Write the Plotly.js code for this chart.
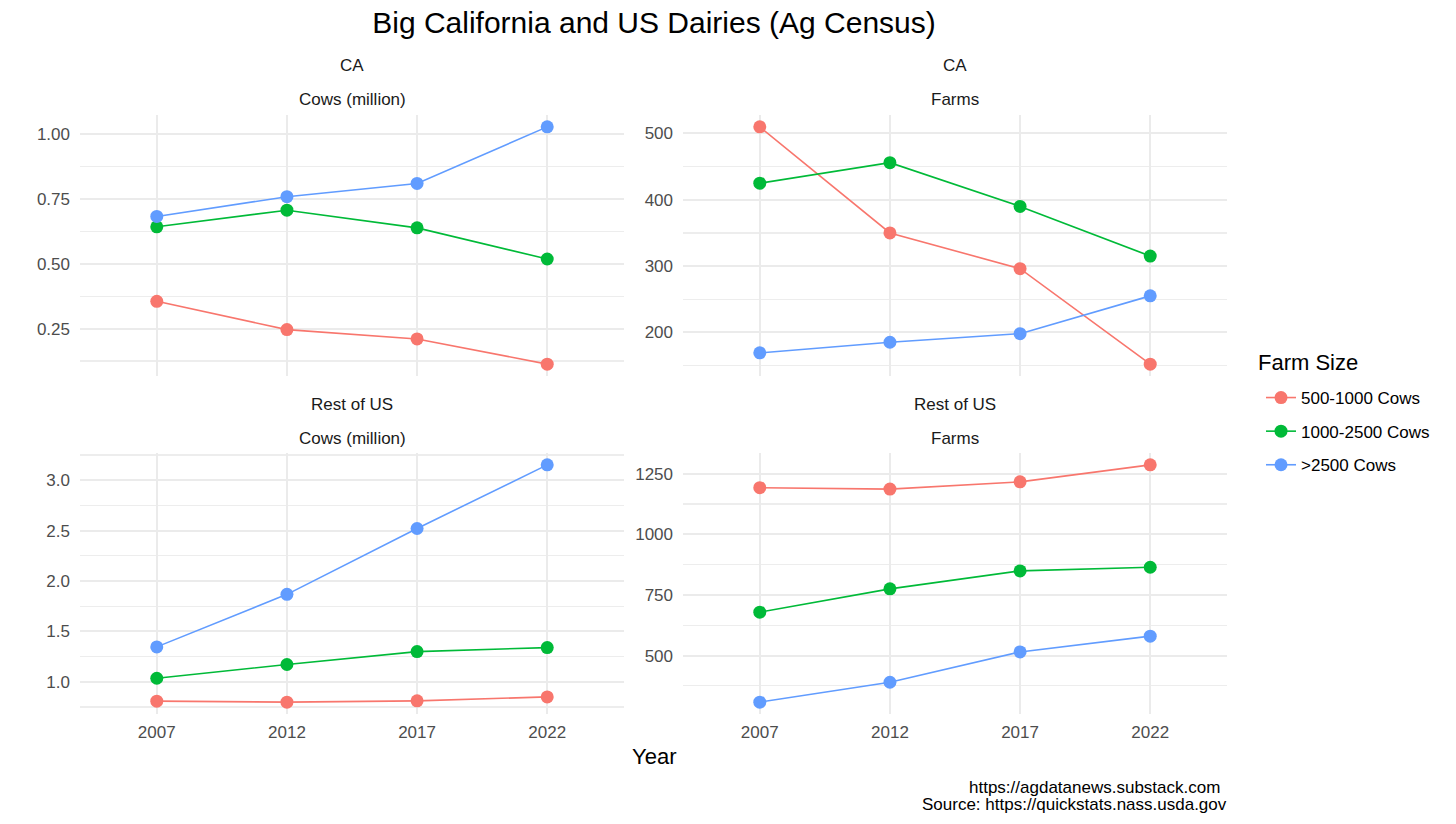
<!DOCTYPE html>
<html>
<head>
<meta charset="utf-8">
<script src="https://cdn.plot.ly/plotly-3.0.1.min.js"></script>
<style>
html, body { margin: 0; padding: 0; background: #ffffff; }
#chart { width: 1456px; height: 824px; }
</style>
</head>
<body>
<div id="chart"></div>
<script>
// ---- Data ----
const years = [2007, 2012, 2017, 2022];
const sizeLabels = ["500-1000 Cows", "1000-2500 Cows", ">2500 Cows"];

const caCows_500_1000  = [0.355, 0.246, 0.210, 0.113];
const caCows_1000_2500 = [0.642, 0.706, 0.638, 0.518];
const caCows_2500plus  = [0.682, 0.758, 0.809, 1.027];

const caFarms_500_1000  = [510, 350, 296, 152];
const caFarms_1000_2500 = [425, 456, 390, 315];
const caFarms_2500plus  = [169, 185, 198, 255];

const usCows_500_1000  = [0.809, 0.799, 0.812, 0.851];
const usCows_1000_2500 = [1.036, 1.172, 1.300, 1.340];
const usCows_2500plus  = [1.347, 1.868, 2.521, 3.152];

const usFarms_500_1000  = [1192, 1186, 1216, 1286];
const usFarms_1000_2500 = [679, 775, 849, 864];
const usFarms_2500plus  = [308, 390, 515, 580];

const stripTop = ["CA", "CA", "Rest of US", "Rest of US"];
const stripBottom = ["Cows (million)", "Farms", "Cows (million)", "Farms"];

// ---- Styling ----
const colors = ["#F8766D", "#00BA38", "#619CFF"];
const FONT = "Liberation Sans, Arial, sans-serif";

const panels = [
  { xa: "x",  ya: "y",  series: [caCows_500_1000, caCows_1000_2500, caCows_2500plus] },
  { xa: "x2", ya: "y2", series: [caFarms_500_1000, caFarms_1000_2500, caFarms_2500plus] },
  { xa: "x3", ya: "y3", series: [usCows_500_1000, usCows_1000_2500, usCows_2500plus] },
  { xa: "x4", ya: "y4", series: [usFarms_500_1000, usFarms_1000_2500, usFarms_2500plus] }
];

const traces = [];
panels.forEach((p, pi) => {
  p.series.forEach((vals, si) => {
    traces.push({
      type: "scatter",
      mode: "lines+markers",
      x: years,
      y: vals,
      xaxis: p.xa,
      yaxis: p.ya,
      name: sizeLabels[si],
      legendgroup: sizeLabels[si],
      showlegend: pi === 0,
      line: { color: colors[si], width: 1.6 },
      marker: { color: colors[si], size: 13 },
      hoverinfo: "x+y+name"
    });
  });
});

function expanded(arrs) {
  const all = [].concat(...arrs);
  const lo = Math.min(...all), hi = Math.max(...all);
  const pad = (hi - lo) * 0.05;
  return [lo - pad, hi + pad];
}

const W = 1456, H = 824;
const px = v => v / W;
const py = v => 1 - v / H;

const xDomL = [px(80), px(624)];
const xDomR = [px(683), px(1227)];
const yDomT = [py(376), py(115)];
const yDomB = [py(714), py(453)];

const xRange = [2004.05, 2024.95];

function xaxis(domain, anchor, labels) {
  return {
    domain: domain, anchor: anchor, range: xRange,
    tickvals: years, ticktext: years.map(String),
    showticklabels: labels,
    showgrid: true, gridcolor: "#EBEBEB", gridwidth: 2,
    zeroline: false, showline: false, ticks: "",
    ticklabelstandoff: 6,
    tickfont: { family: FONT, size: 17, color: "#4D4D4D" },
    fixedrange: true
  };
}
function yaxis(domain, anchor, range, dtick, fmt) {
  return {
    domain: domain, anchor: anchor, range: range,
    dtick: dtick, tick0: 0, tickformat: fmt,
    showgrid: true, gridcolor: "#EBEBEB", gridwidth: 2,
    minor: { dtick: dtick / 2, tick0: 0, showgrid: true, gridcolor: "#EDEDED", gridwidth: 1.2, ticks: "" },
    zeroline: false, showline: false, ticks: "",
    ticklabelstandoff: 9,
    tickfont: { family: FONT, size: 17, color: "#4D4D4D" },
    fixedrange: true
  };
}

const annotations = [];
const stripCenters = [
  [(80 + 624) / 2, 66, 100],
  [(683 + 1227) / 2, 66, 100],
  [(80 + 624) / 2, 405, 438],
  [(683 + 1227) / 2, 405, 438]
];
stripCenters.forEach((c, i) => {
  annotations.push({ xref: "paper", yref: "paper", x: px(c[0]), y: py(c[1]), text: stripTop[i],
    showarrow: false, xanchor: "center", yanchor: "middle", font: { family: FONT, size: 17, color: "#1A1A1A" } });
  annotations.push({ xref: "paper", yref: "paper", x: px(c[0]), y: py(c[2]), text: stripBottom[i],
    showarrow: false, xanchor: "center", yanchor: "middle", font: { family: FONT, size: 17, color: "#1A1A1A" } });
});
annotations.push({ xref: "paper", yref: "paper", x: px(654), y: py(756), text: "Year",
  showarrow: false, xanchor: "center", yanchor: "middle", font: { family: FONT, size: 22, color: "#000000" } });
annotations.push({ xref: "paper", yref: "paper", x: px(1222), y: py(787),
  text: "https://agdatanews.substack.com",
  showarrow: false, xanchor: "right", yanchor: "middle",
  font: { family: FONT, size: 17, color: "#000000" } });
annotations.push({ xref: "paper", yref: "paper", x: px(1229), y: py(804),
  text: "Source: https://quickstats.nass.usda.gov",
  showarrow: false, xanchor: "right", yanchor: "middle",
  font: { family: FONT, size: 17, color: "#000000" } });
annotations.push({ xref: "paper", yref: "paper", x: px(1256), y: py(362),
  text: "Farm Size",
  showarrow: false, xanchor: "left", yanchor: "middle",
  font: { family: FONT, size: 22, color: "#000000" } });

const layout = {
  width: W, height: H,
  margin: { l: 0, r: 0, t: 0, b: 0 },
  paper_bgcolor: "#FFFFFF", plot_bgcolor: "#FFFFFF",
  font: { family: FONT, color: "#000000" },
  title: { text: "Big California and US Dairies (Ag Census)", x: px(654), xanchor: "center",
    y: py(22), yanchor: "middle", yref: "paper", font: { family: FONT, size: 30, color: "#000000" } },
  showlegend: true,
  legend: {
    x: px(1261), y: py(380), xanchor: "left", yanchor: "top",
    font: { family: FONT, size: 17, color: "#000000" },
    traceorder: "grouped", tracegroupgap: 8.5, bgcolor: "rgba(0,0,0,0)"
  },
  xaxis:  xaxis(xDomL, "y",  false),
  xaxis2: xaxis(xDomR, "y2", false),
  xaxis3: xaxis(xDomL, "y3", true),
  xaxis4: xaxis(xDomR, "y4", true),
  yaxis:  yaxis(yDomT, "x",  expanded(panels[0].series), 0.25, ".2f"),
  yaxis2: yaxis(yDomT, "x2", expanded(panels[1].series), 100, "d"),
  yaxis3: yaxis(yDomB, "x3", expanded(panels[2].series), 0.5, ".1f"),
  yaxis4: yaxis(yDomB, "x4", expanded(panels[3].series), 250, "d"),
  annotations: annotations
};

Plotly.newPlot("chart", traces, layout, { displayModeBar: false, staticPlot: true });
</script>
</body>
</html>
